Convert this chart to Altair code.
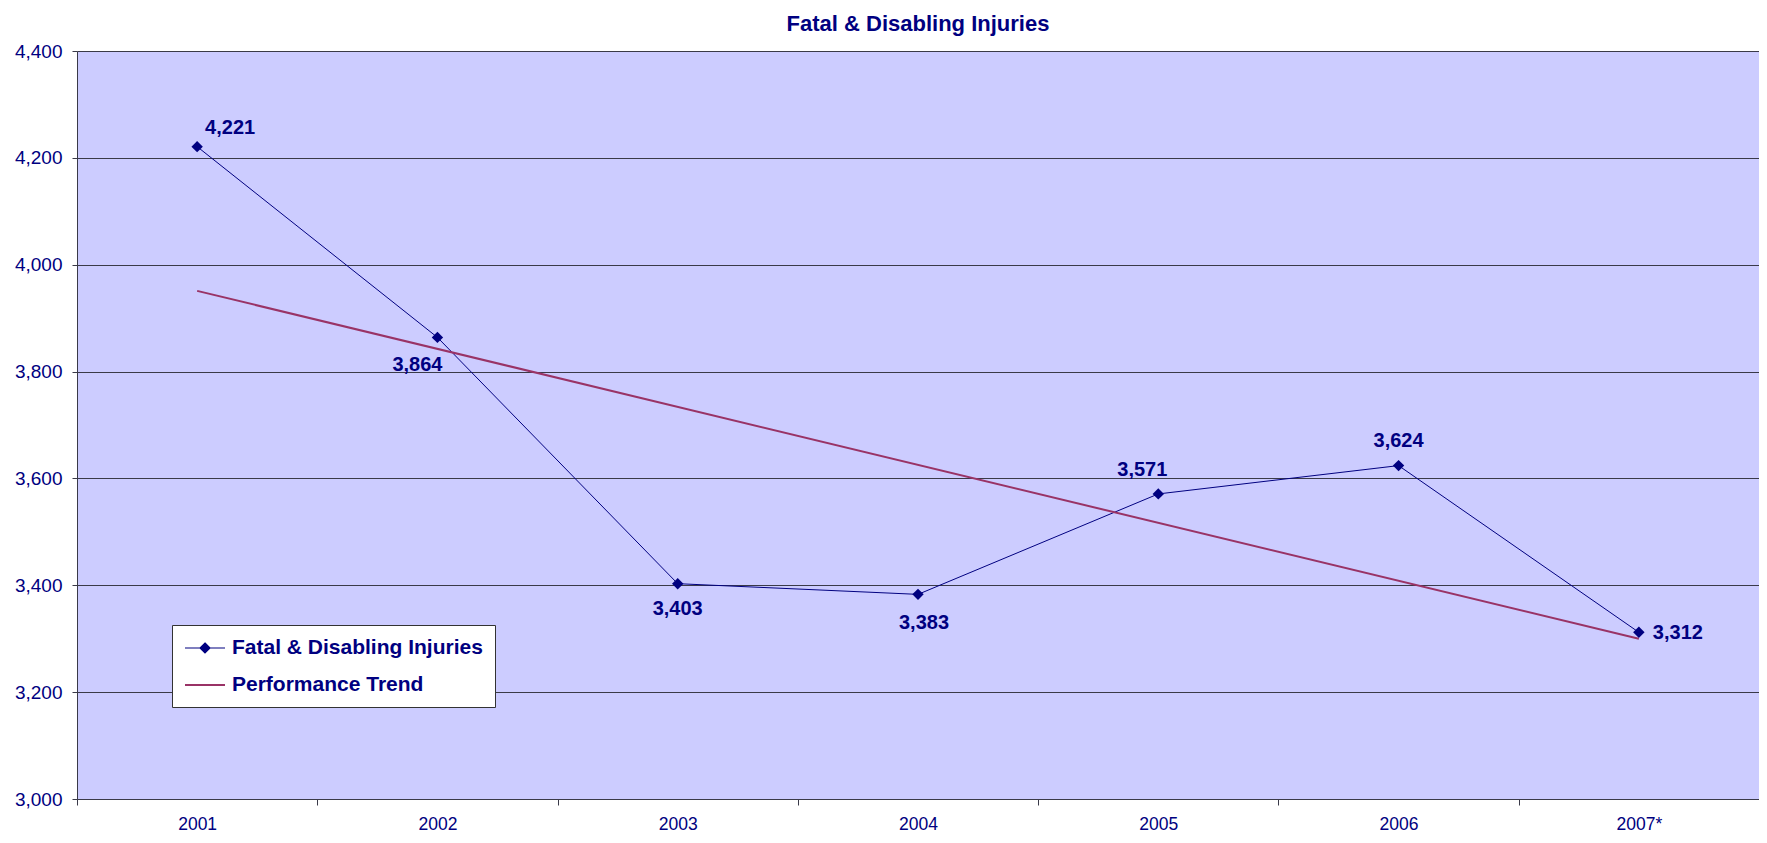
import json
import altair as alt
import pandas as pd

# ---------------- data ----------------
TITLE = "Fatal & Disabling Injuries"
YEARS = ["2001", "2002", "2003", "2004", "2005", "2006", "2007*"]
INJURIES = [4221, 3864, 3403, 3383, 3571, 3624, 3312]
SERIES = ["Fatal & Disabling Injuries", "Performance Trend"]
Y_TICKS = [3000, 3200, 3400, 3600, 3800, 4000, 4200, 4400]

df = pd.DataFrame({
    "idx": list(range(len(YEARS))),
    "year": YEARS,
    "value": INJURIES,
    "series": SERIES[0],
})

# ---------------- styling ----------------
NAVY = "#000080"
PLUM = "#993366"
GRID = "#3a3a48"
FONT = "Liberation Sans"
W, H = 1682, 748
n = len(YEARS)

# label placement (pixels) relative to each point
LABEL_OFFSETS = {
    "2001": (33, -19),
    "2002": (-20, 28),
    "2003": (0, 25),
    "2004": (6, 29),
    "2005": (-16, -24),
    "2006": (0, -25),
    "2007*": (39, 1),
}

arr = json.dumps(YEARS)
x = alt.X(
    "idx:Q",
    scale=alt.Scale(domain=[-0.5, n - 0.5], nice=False, zero=False),
    axis=alt.Axis(
        values=[i - 0.5 for i in range(n + 1)],
        labelExpr=f"datum.value < {n - 1} ? {arr}[round(datum.value + 0.5)] : ''",
        labelOffset=W / n / 2,
        labelFlush=False,
        labelOverlap=False,
        labelBound=False,
        title=None,
        grid=False,
        tickSize=6,
        labelPadding=10,
        labelFontSize=17.5,
    ),
)
y = alt.Y(
    "value:Q",
    scale=alt.Scale(domain=[Y_TICKS[0], Y_TICKS[-1]], nice=False, zero=False),
    axis=alt.Axis(
        values=Y_TICKS,
        format=",.0f",
        title=None,
        grid=True,
        tickSize=5,
        labelPadding=10,
        labelFontSize=19,
    ),
)

base = alt.Chart(df)

line = base.mark_line(color=NAVY, strokeWidth=1).encode(x=x, y=y)

trend = (
    base.transform_regression("idx", "value", extent=[0, n - 1])
    .mark_line(color=PLUM, strokeWidth=2)
    .encode(x=x, y=y)
)

points = base.mark_point(shape="diamond", filled=True, size=130, color=NAVY, opacity=1).encode(x=x, y=y)

label_layers = []
for yr, (dx, dy) in LABEL_OFFSETS.items():
    label_layers.append(
        base.transform_filter(alt.datum.year == yr)
        .mark_text(dx=dx, dy=dy, font=FONT, fontSize=20, fontWeight="bold", color=NAVY,
                   align="center", baseline="middle")
        .encode(x=x, y=y, text=alt.Text("value:Q", format=",.0f"))
    )

# legend symbols: line with diamond, plain line (unit = sqrt(size)/2 px)
P1 = "M-1,0L3,0M1,-0.5L1.5,0L1,0.5L0.5,0Z"
P2 = "M-1,0L3,0"
leg = alt.Legend(
    title=None,
    orient="none",
    legendX=95,
    legendY=574,
    fillColor="white",
    strokeColor="#333333",
    padding=12,
    labelFont=FONT,
    labelFontSize=21,
    labelFontWeight="bold",
    labelColor=NAVY,
    labelOffset=26,
    labelLimit=1000,
    symbolSize=400,
    symbolOpacity=1,
    rowPadding=16,
    cornerRadius=0,
)
legend_layer = (
    base.transform_filter("false")
    .mark_point(filled=True, size=400, opacity=1)
    .encode(
        x=x,
        y=y,
        fill=alt.Fill("series:N", scale=alt.Scale(domain=SERIES, range=[NAVY, PLUM]), legend=leg),
        stroke=alt.Stroke("series:N", scale=alt.Scale(domain=SERIES, range=[NAVY, PLUM]), legend=leg),
        shape=alt.Shape("series:N", scale=alt.Scale(domain=SERIES, range=[P1, P2]), legend=leg),
        strokeWidth=alt.StrokeWidth("series:N", scale=alt.Scale(domain=SERIES, range=[1.2, 2]), legend=leg),
    )
)

chart = (
    alt.layer(line, trend, points, *label_layers, legend_layer)
    .properties(
        width=W,
        height=H,
        title=alt.TitleParams(
            TITLE, font=FONT, fontSize=22, fontWeight="bold", color=NAVY,
            anchor="middle", offset=6,
        ),
        padding={"left": 69, "top": 43, "right": 0, "bottom": 36},
        autosize=alt.AutoSizeParams(type="none"),
        background="white",
    )
    .configure_view(fill="#CCCCFF", stroke="transparent")
    .configure_axis(
        labelFont=FONT,
        labelColor=NAVY,
        domainColor=GRID,
        tickColor=GRID,
        gridColor=GRID,
        gridOpacity=1,
        domainWidth=1,
        gridWidth=1,
    )
)

chart.save("out.html", embed_options={"renderer": "svg", "actions": False})
